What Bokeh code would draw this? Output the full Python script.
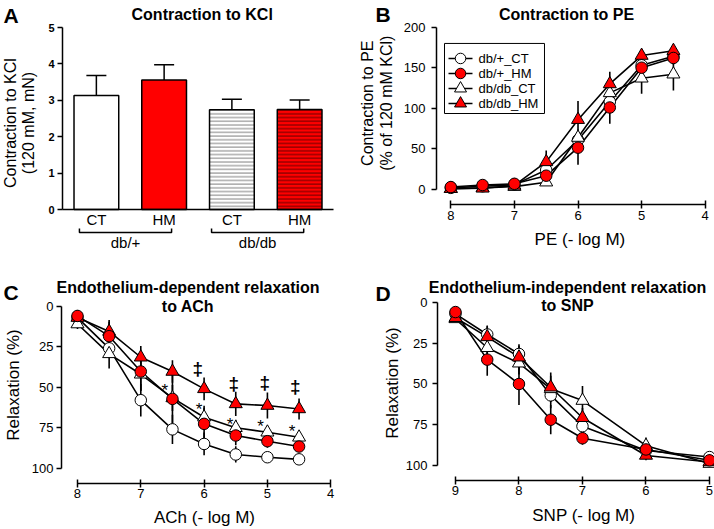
import numpy as np
from bokeh.plotting import figure
from bokeh.models import Range1d, FixedTicker, Label, ColumnDataSource
from bokeh.layouts import column, row
from bokeh.embed import file_html
from bokeh.resources import INLINE
from bokeh.core.properties import value

FONT = "Liberation Sans"

# ---------------- Panel A: contraction to KCl ----------------
kcl_groups = ["CT", "HM", "CT", "HM"]
kcl_genotypes = ["db/+", "db/db"]
kcl_mean = [3.13, 3.56, 2.74, 2.75]
kcl_sem = [0.55, 0.42, 0.29, 0.26]

# ---------------- Panel B: contraction to PE ----------------
pe_logm = [8, 7.5, 7, 6.5, 6, 5.5, 5, 4.5]
pe_dbp_ct = [2, 4, 6, 24, 61, 108, 153, 164]
pe_dbp_ct_sem = [1, 2, 3, 6, 10, 12, 10, 8]
pe_dbp_hm = [3, 5.5, 7, 17, 51.5, 101, 150, 162]
pe_dbp_hm_sem = [1, 2, 3, 6, 21, 20, 10, 8]
pe_dbdb_ct = [1, 2, 3.5, 9, 64, 119, 137, 142]
pe_dbdb_ct_sem = [1, 1, 2, 4, 10, 12, 19, 20]
pe_dbdb_hm = [1, 1.5, 5, 34, 86, 130, 165, 171]
pe_dbdb_hm_sem = [1, 2, 7, 14, 23, 15, 6, 5]

# ---------------- Panel C: relaxation to ACh ----------------
ach_logm = [8, 7.5, 7, 6.5, 6, 5.5, 5, 4.5]
ach_dbp_ct = [7, 26, 58, 76, 85, 91.5, 93.2, 94.5]
ach_dbp_ct_sem = [2, 6, 10, 9, 7, 5, 3, 2]
ach_dbp_hm = [6, 18.5, 40.3, 57.2, 72.6, 79.8, 83.3, 86.6]
ach_dbp_hm_sem = [2, 10, 12, 15, 10, 6, 4, 3]
ach_dbdb_ct = [11, 29.4, 42, 56.6, 68.5, 75, 77.8, 80.9]
ach_dbdb_ct_sem = [3, 9, 10, 8, 7, 5, 4, 4]
ach_dbdb_hm = [7, 15.6, 31.5, 40.3, 51, 60.3, 61.3, 63.4]
ach_dbdb_hm_sem = [2, 6, 7, 7, 7, 7.5, 8, 6.5]
ach_dagger_logm = [6.1, 5.53, 5.04, 4.56]
ach_dagger_y = [38.7, 47.9, 46.9, 49.6]
ach_star_logm = [6.62, 6.08, 5.59, 5.11, 4.61]
ach_star_y = [49, 60.7, 70.2, 71.2, 74]

# ---------------- Panel D: relaxation to SNP ----------------
snp_logm = [9, 8.5, 8, 7.5, 7, 6, 5]
snp_dbp_ct = [6.8, 19.5, 31.5, 57, 76, 91, 95]
snp_dbp_ct_sem = [2, 5, 5, 8, 5, 3, 2]
snp_dbp_hm = [5.7, 35, 50, 72, 83.4, 90.3, 97]
snp_dbp_hm_sem = [2, 10, 13, 9, 4, 3, 2]
snp_dbdb_ct = [9.9, 27.7, 37.2, 53, 60.2, 88, 99]
snp_dbdb_ct_sem = [2, 6, 7, 8, 9, 5, 2]
snp_dbdb_hm = [9.2, 21, 33.5, 52, 70.8, 94, 98]
snp_dbdb_hm_sem = [2, 7, 8, 9, 6, 3, 2]

series_names = ["db/+_CT", "db/+_HM", "db/db_CT", "db/db_HM"]
series_marker = ["circle", "circle", "triangle", "triangle"]
series_fill = ["white", "red", "white", "red"]
series_size = [11.5, 11.5, 13, 13]


def lab(p, x, y, text, size, bold=False, angle=0.0, align="center", baseline="middle"):
    p.add_layout(Label(x=x, y=y, text=text, text_font=FONT, text_font_size=size,
                       text_font_style="bold" if bold else "normal", angle=angle,
                       text_align=align, text_baseline=baseline, text_color="black"))


def base_fig(width, height, xr, yr, xaxis=True):
    p = figure(width=width, height=height, x_range=xr, y_range=yr,
               output_backend="svg", toolbar_location=None,
               x_axis_location="below" if xaxis else None,
               min_border_left=0, min_border_right=0,
               min_border_top=0, min_border_bottom=0)
    p.title.visible = False
    p.xgrid.visible = False
    p.ygrid.visible = False
    p.outline_line_color = None
    return p


def style_axis(ax, loc, bounds, ticks, tin, tout, standoff, size="13px", bold=False):
    ax.fixed_location = loc
    ax.bounds = bounds
    ax.ticker = FixedTicker(ticks=ticks, minor_ticks=[])
    ax.major_tick_in = tin
    ax.major_tick_out = tout
    ax.minor_tick_in = 0
    ax.minor_tick_out = 0
    ax.axis_line_width = 1.5
    ax.axis_line_color = "black"
    ax.major_tick_line_width = 1.5
    ax.major_tick_line_color = "black"
    ax.major_label_text_font = FONT
    ax.major_label_text_font_size = size
    ax.major_label_text_font_style = "bold" if bold else "normal"
    ax.major_label_text_color = "black"
    ax.major_label_standoff = standoff


def curves(p, xs, ys_list, errs_list):
    x = np.array(xs, dtype=float)
    for ys in ys_list:
        p.line(x, ys, line_color="black", line_width=1.6)
    for ys, es in zip(ys_list, errs_list):
        y = np.array(ys, dtype=float)
        e = np.array(es, dtype=float)
        p.segment(x0=x, y0=y - e, x1=x, y1=y + e, line_color="black", line_width=1.6)
    for i in [0, 2, 3, 1]:
        p.scatter(x, ys_list[i], marker=series_marker[i], size=series_size[i],
                  fill_color=series_fill[i], line_color="black", line_width=1)


# ======================= Panel A =======================
pA = base_fig(357, 264, Range1d(-0.915, 4.354), Range1d(-1.511, 5.742), xaxis=False)
style_axis(pA.yaxis[0], 0, (0, 5), [0, 1, 2, 3, 4, 5], 0, 5, 3, size="11px", bold=True)
bar_x = [0.5, 1.5, 2.5, 3.5]
srcA = ColumnDataSource(dict(
    x=bar_x, top=kcl_mean,
    fill=["white", "red", "white", "red"],
    hatch=[" ", " ", "-", "-"],
    hcol=["#808080", "#808080", "#8a8a8a", "#700000"],
))
pA.vbar(x="x", top="top", width=0.66, bottom=0, source=srcA, fill_color="fill",
        line_color="black", line_width=1.5, hatch_pattern="hatch", hatch_color="hcol",
        hatch_scale=3.7, hatch_weight=1.1)
errA_top = np.array(kcl_mean) + np.array(kcl_sem)
pA.segment(x0=bar_x, y0=kcl_mean, x1=bar_x, y1=errA_top, line_color="black", line_width=1.5)
pA.scatter(bar_x, errA_top, marker="dash", size=20, line_color="black", line_width=1.5)
pA.segment(x0=[0], y0=[0], x1=[4], y1=[0], line_color="black", line_width=1.5)
pA.text(bar_x, [-0.275] * 4, text=kcl_groups, text_align="center", text_baseline="middle",
        text_font=value(FONT), text_font_size="15px", text_color="black")
pA.multi_line(xs=[[0.25, 0.25, 1.61, 1.61], [2.2, 2.2, 3.56, 3.56]],
              ys=[[-0.52, -0.632, -0.632, -0.52], [-0.52, -0.632, -0.632, -0.52]],
              line_color="black", line_width=1.5)
pA.text([0.93, 2.88], [-0.907, -0.907], text=kcl_genotypes, text_align="center",
        text_baseline="middle", text_font=value(FONT), text_font_size="15px", text_color="black")
lab(pA, -0.871, 5.33, "A", "21px", bold=True, align="left")
lab(pA, 2.062, 5.357, "Contraction to KCl", "16px", bold=True)
lab(pA, -0.7675, 2.376, "Contraction to KCl", "16px", angle=np.pi / 2)
lab(pA, -0.502, 2.376, "(120 mM, mN)", "16px", angle=np.pi / 2)

# ======================= Panel B =======================
pB = base_fig(357, 264, Range1d(9.467, 3.854), Range1d(-92.4, 232.8))
style_axis(pB.xaxis[0], -18.5, (4, 8), [4, 5, 6, 7, 8], 4, 4, 2)
style_axis(pB.yaxis[0], 8.225, (0, 200), [0, 50, 100, 150, 200], 0, 5, 6)
curves(pB, pe_logm, [pe_dbp_ct, pe_dbp_hm, pe_dbdb_ct, pe_dbdb_hm],
       [pe_dbp_ct_sem, pe_dbp_hm_sem, pe_dbdb_ct_sem, pe_dbdb_hm_sem])
# legend box (drawn manually)
pB.quad(left=[8.099], right=[6.527], top=[179.9], bottom=[93.6],
        fill_color="white", line_color="black", line_width=1)
leg_y = [161.4, 142.9, 124.4, 105.9]
pB.segment(x0=[8.036] * 4, y0=leg_y, x1=[7.659] * 4, y1=leg_y, line_color="black", line_width=1.5)
for i in range(4):
    pB.scatter([7.847], [leg_y[i]], marker=series_marker[i], size=series_size[i] - 1,
               fill_color=series_fill[i], line_color="black", line_width=1)
pB.text([7.565] * 4, leg_y, text=series_names, text_align="left", text_baseline="middle",
        text_font=value(FONT), text_font_size="13px", text_color="black")
lab(pB, 9.184, 215, "B", "21px", bold=True, align="left")
lab(pB, 6.18, 215.6, "Contraction to PE", "16px", bold=True)
lab(pB, 9.31, 106.3, "Contraction to PE", "16px", angle=np.pi / 2)
lab(pB, 9.01, 106.3, "(% of 120 mM KCl)", "16px", angle=np.pi / 2)
lab(pB, 5.97, -61, "PE (- log M)", "17px")

# ======================= Panel C =======================
pC = base_fig(357, 265, Range1d(9.216, 3.577), Range1d(137.8, -25.74))
style_axis(pC.xaxis[0], 109.3, (4, 8), [4, 5, 6, 7, 8], 4, 4, 2)
style_axis(pC.yaxis[0], 8.253, (0, 100), [0, 25, 50, 75, 100], 0, 5, 3)
curves(pC, ach_logm, [ach_dbp_ct, ach_dbp_hm, ach_dbdb_ct, ach_dbdb_hm],
       [ach_dbp_ct_sem, ach_dbp_hm_sem, ach_dbdb_ct_sem, ach_dbdb_hm_sem])
pC.text(ach_dagger_logm, ach_dagger_y, text=["‡"] * len(ach_dagger_logm), text_align="center",
        text_baseline="middle", text_font=value(FONT), text_font_size="19px",
        text_font_style="bold", text_color="black")
pC.text(ach_star_logm, ach_star_y, text=["*"] * len(ach_star_logm), text_align="center",
        text_baseline="middle", text_font=value(FONT), text_font_size="17px", text_color="black",
        y_offset=5)
lab(pC, 9.169, -8.5, "C", "21px", bold=True, align="left")
lab(pC, 6.254, -11.7, "Endothelium-dependent relaxation", "16px", bold=True)
lab(pC, 6.254, 0.2, "to ACh", "16px", bold=True)
lab(pC, 9.003, 48.6, "Relaxation (%)", "17px", angle=np.pi / 2)
lab(pC, 5.994, 130.2, "ACh (- log M)", "17px")

# ======================= Panel D =======================
pD = base_fig(357, 265, Range1d(10.543, 4.921), Range1d(139.6, -23.58))
style_axis(pD.xaxis[0], 109.4, (5, 9), [5, 6, 7, 8, 9], 4, 4, 2)
style_axis(pD.yaxis[0], 9.283, (0, 100), [0, 25, 50, 75, 100], 0, 5, 5)
curves(pD, snp_logm, [snp_dbp_ct, snp_dbp_hm, snp_dbdb_ct, snp_dbdb_hm],
       [snp_dbp_ct_sem, snp_dbp_hm_sem, snp_dbdb_ct_sem, snp_dbdb_hm_sem])
lab(pD, 10.26, -6, "D", "21px", bold=True, align="left")
lab(pD, 7.236, -9.6, "Endothelium-independent relaxation", "16px", bold=True)
lab(pD, 7.236, 1.66, "to SNP", "16px", bold=True)
lab(pD, 9.99, 49.4, "Relaxation (%)", "17px", angle=np.pi / 2)
lab(pD, 6.98, 131, "SNP (- log M)", "17px")

layout = column(row(pA, pB), row(pC, pD))
open("out.html", "w").write(file_html(layout, INLINE))
